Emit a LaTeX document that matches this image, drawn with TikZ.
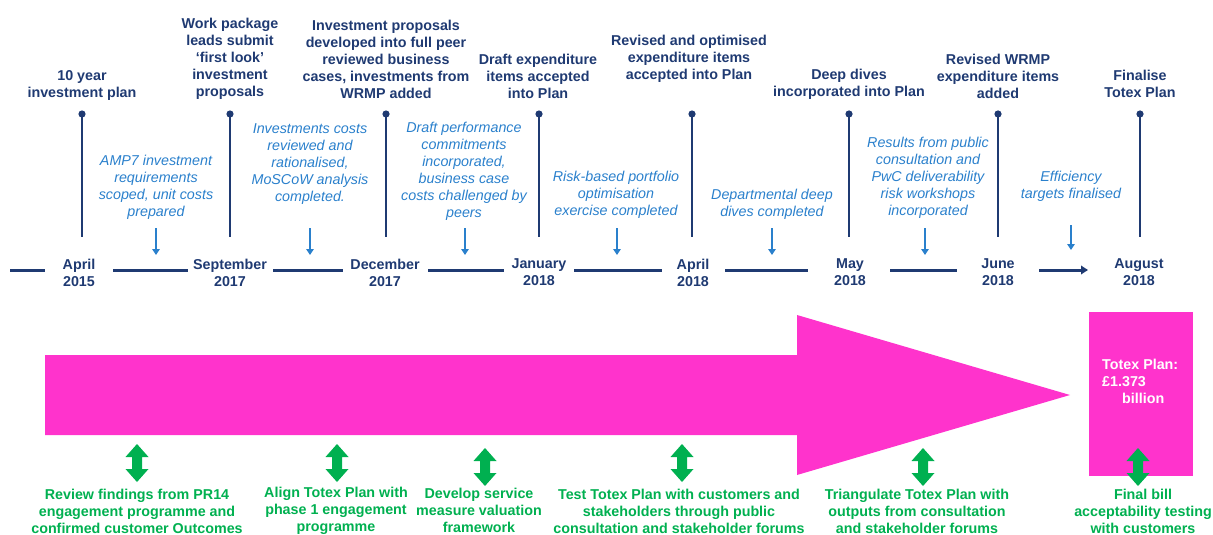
\documentclass[tikz,border=0pt]{standalone}
\usepackage{fontspec}
\setmainfont{Liberation Sans}
\usetikzlibrary{arrows.meta}
\definecolor{navy}{HTML}{1F3A72}
\definecolor{skyblue}{HTML}{2A80CC}
\definecolor{hotpink}{HTML}{FF33CC}
\definecolor{leaf}{HTML}{00B050}
\begin{document}
\begin{tikzpicture}[x=1pt,y=-1pt,
  every node/.style={inner sep=0pt, align=center},
  txt/.style={font=\fontsize{14.3}{17}\selectfont},
  milestone/.style={txt, text=navy, font=\bfseries\fontsize{14.3}{17}\selectfont},
  datelbl/.style={milestone},
  activity/.style={txt, text=skyblue, font=\itshape\fontsize{14.3}{17}\selectfont},
  engage/.style={txt, text=leaf, font=\bfseries\fontsize{14.3}{17}\selectfont},
  stem/.style={draw=navy, line width=2.2pt},
  seg/.style={draw=navy, line width=3pt},
  dot/.style={fill=navy},
  downarrow/.style={draw=skyblue, line width=1.8pt, -{Triangle[width=7.5pt,length=6pt]}},
  updown/.pic={\fill[leaf] (0,0) -- (11.5,13) -- (5,13) -- (5,25) -- (11.5,25) -- (0,38)
      -- (-11.5,25) -- (-5,25) -- (-5,13) -- (-11.5,13) -- cycle;}
]
\useasboundingbox (0,0) rectangle (1213,535);

% ---- milestone headings ----
\node[milestone] (m1) at (82,85)   {10 year\\investment plan};
\node[milestone] (m2) at (230,59)  {Work package\\leads submit\\‘first look’\\investment\\proposals};
\node[milestone] (m3) at (386,59)  {Investment proposals\\developed into full peer\\reviewed business\\cases, investments from\\WRMP added};
\node[milestone] (m4) at (538,76)  {Draft expenditure\\items accepted\\into Plan};
\node[milestone] (m5) at (689,58.5){Revised and optimised\\expenditure items\\accepted into Plan};
\node[milestone] (m6) at (849,84)  {Deep dives\\incorporated into Plan};
\node[milestone] (m7) at (998,76)  {Revised WRMP\\expenditure items\\added};
\node[milestone] (m8) at (1140,84) {Finalise\\Totex Plan};

% ---- stems with dots ----
\foreach \i/\x in {1/82,2/230,3/386,4/539,5/692,6/849,7/998,8/1140}{
  \coordinate (top\i) at (\x,114);
  \coordinate (bot\i) at (\x,237);
  \draw[stem] (top\i) -- (bot\i);
  \fill[dot] (top\i) circle (3.6);
}

% ---- activities between milestones ----
\node[activity] (a1) at (156,187.5) {AMP7 investment\\requirements\\scoped, unit costs\\prepared};
\node[activity] (a2) at (310,164)   {Investments costs\\reviewed and\\rationalised,\\MoSCoW analysis\\completed.};
\node[activity] (a3) at (464,171)   {Draft performance\\commitments\\incorporated,\\business case\\costs challenged by\\peers};
\node[activity] (a4) at (616,195)   {Risk-based portfolio\\optimisation\\exercise completed};
\node[activity] (a5) at (772,204)   {Departmental deep\\dives completed};
\node[activity] (a6) at (928,178)   {Results from public\\consultation and\\PwC deliverability\\risk workshops\\incorporated};
\node[activity] (a7) at (1071,186.5){Efficiency\\targets finalised};

\foreach \i/\x/\ya/\yb in {1/156/228/255,2/310/228/255,3/465/228/255,4/617/228/255,5/772/228/255,6/925/228/255,7/1071/225/250}{
  \coordinate (aa\i) at (\x,\ya);
  \coordinate (ab\i) at (\x,\yb);
  \draw[downarrow] (aa\i) -- (ab\i);
}

% ---- dates on the timeline ----
\node[datelbl] (d1) at (79,272.5)   {April\\2015};
\node[datelbl] (d2) at (230,272.5)  {September\\2017};
\node[datelbl] (d3) at (385,272.5)  {December\\2017};
\node[datelbl] (d4) at (539,272.5)  {January\\2018};
\node[datelbl] (d5) at (693,272.5)  {April\\2018};
\node[datelbl] (d6) at (850,272.5)  {May\\2018};
\node[datelbl] (d7) at (998,272.5)  {June\\2018};
\node[datelbl] (d8) at (1139,272.5) {August\\2018};

\foreach \i/\xa/\xb in {1/10/45,2/113/188,3/273/343,4/428/504,5/574/662,6/725/808,7/890/957}{
  \coordinate (sa\i) at (\xa,270);
  \coordinate (sb\i) at (\xb,270);
  \draw[seg] (sa\i) -- (sb\i);
}
\coordinate (sa8) at (1039,270);
\coordinate (sb8) at (1088,270);
\draw[seg, -{Triangle[width=8.5pt,length=7pt]}] (sa8) -- (sb8);

% ---- big arrow and the plan total ----
\fill[hotpink] (45,355) -- (797,355) -- (797,315) -- (1070,395) -- (797,475)
  -- (797,435) -- (45,435) -- cycle;
\fill[hotpink] (1089,312) rectangle (1193,476);
\node[txt, text=white, font=\bfseries\fontsize{14.3}{17}\selectfont, align=left, anchor=west]
  (total) at (1102,381.5) {Totex Plan:\\£1.373\\\hspace*{20pt}billion};

% ---- engagement strands ----
\pic at (137,444) {updown};
\pic at (337,444) {updown};
\pic at (485,448) {updown};
\pic at (682,444) {updown};
\pic at (923,448) {updown};
\pic at (1138,448) {updown};

\node[engage] (e1) at (137,511)   {Review findings from PR14\\engagement programme and\\confirmed customer Outcomes};
\node[engage] (e2) at (336,511)   {Align Totex Plan with\\phase 1 engagement\\programme};
\node[engage] (e3) at (479,510.5) {Develop service\\measure valuation\\framework};
\node[engage] (e4) at (679,511)   {Test Totex Plan with customers and\\stakeholders through public\\consultation and stakeholder forums};
\node[engage] (e5) at (917,511)   {Triangulate Totex Plan with\\outputs from consultation\\and stakeholder forums};
\node[engage] (e6) at (1143,511)  {Final bill\\acceptability testing\\with customers};
\end{tikzpicture}
\end{document}
